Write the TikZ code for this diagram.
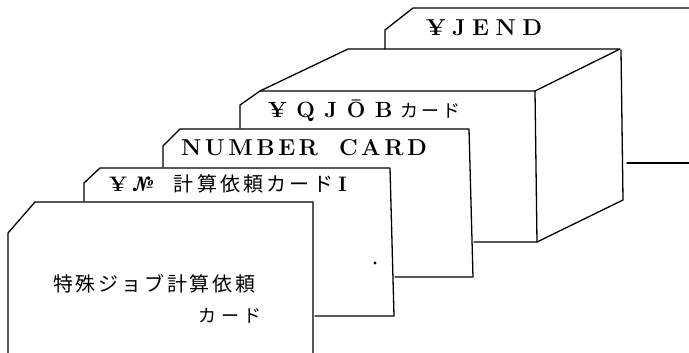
\documentclass[tikz,border=0pt]{standalone}
\usepackage{fontspec}
\newfontfamily\jpfont{Noto Sans CJK JP}
\begin{document}
\begin{tikzpicture}[x=1pt,y=-1pt,
  card/.style={line width=1.3pt,line join=round,line cap=round},
  lab/.style={inner sep=0pt,anchor=west},
  lat/.style={font=\fontsize{23}{27}\selectfont\bfseries}]
\useasboundingbox (0,0) rectangle (689,353);
% card 5 (JEND)
\draw[card] (385,49) -- (385,30) -- (413,8) -- (689,8);
\draw[card] (627,163) -- (689,163);
% block (stack of cards)
\draw[card] (260,91) -- (348,49) -- (620,49) -- (535,91);
\draw[card] (621,50) -- (623,200) -- (537,242);
% card 4
\draw[card] (240,128) -- (240,105) -- (260,91) -- (535,91) -- (537,242) -- (474,242);
% card 3
\draw[card] (163,167) -- (163,146) -- (180,129) -- (469,129) -- (473,277) -- (395,277);
% card 2
\draw[card] (84,201) -- (84,183) -- (100,168) -- (390,168) -- (394,316) -- (315,316);
% card 1
\draw[card] (8,353) -- (8,233) -- (35,202) -- (313,202) -- (313,353);
\fill (375,263) circle (1.6);
% labels
\node[lab,lat] (t5) at (426,28) {¥\kern6.5pt J\kern6.5pt E\kern6.5pt N\kern6.5pt D};
\node[lab] (t4) at (268,111) {{\fontsize{22}{26}\selectfont\bfseries ¥\kern9.5pt Q\kern9.5pt J\kern9.5pt Ō\kern9.5pt B}\kern8pt{\jpfont\fontsize{18}{22}\selectfont\addfontfeatures{LetterSpace=18}カード}};
\node[lab,lat] (t3) at (181,148) {N\kern3.5pt U\kern3.5pt M\kern3.5pt B\kern3.5pt E\kern3.5pt R\kern21pt C\kern3.5pt A\kern3.5pt R\kern3.5pt D};
\node[lab] (t2) at (109,184) {{\fontsize{21}{25}\selectfont\bfseries ¥\kern4pt{\itshape №}}\kern20pt{\jpfont\fontsize{20}{24}\selectfont\addfontfeatures{LetterSpace=16}計算依頼カード}\kern5pt{\fontsize{21}{25}\selectfont\bfseries I}};
\node[lab] (t1a) at (53,284) {\jpfont\fontsize{20}{24}\selectfont\addfontfeatures{LetterSpace=14}特殊ジョブ計算依頼};
\node[inner sep=0pt,anchor=east] (t1b) at (262,316) {\jpfont\fontsize{18}{22}\selectfont\addfontfeatures{LetterSpace=25}カード};
\end{tikzpicture}
\end{document}
